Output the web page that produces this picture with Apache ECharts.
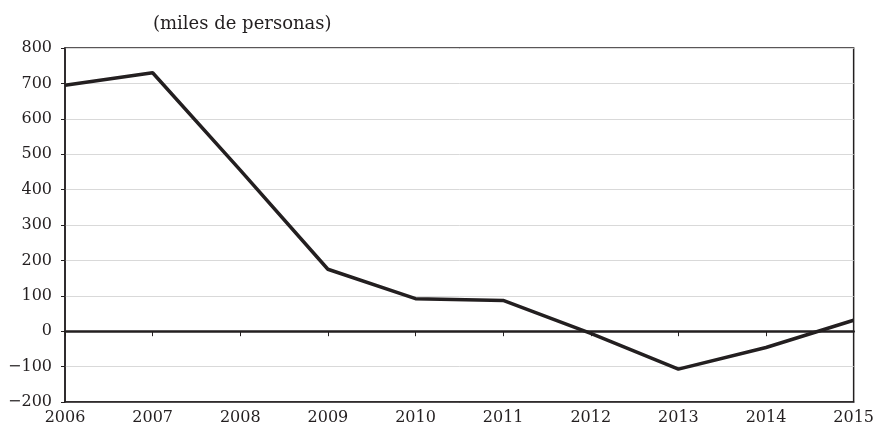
<!DOCTYPE html>
<html>
<head>
<meta charset="utf-8">
<script src="https://cdn.jsdelivr.net/npm/echarts@6/dist/echarts.min.js"></script>
<style>
html,body{margin:0;padding:0;background:#fff;}
#chart{width:877px;height:427px;}
</style>
</head>
<body>
<div id="chart"></div>
<script>
var years = ['2006','2007','2008','2009','2010','2011','2012','2013','2014','2015'];
var values = [695, 730, 455, 175, 92, 87, -6, -107, -46, 31];
var subtitle = '(miles de personas)';

var serif = 'DejaVu Serif';
var chart = echarts.init(document.getElementById('chart'));
chart.setOption({
  animation: false,
  backgroundColor: '#fff',
  title: {
    text: subtitle,
    left: 148, top: 10,
    textStyle: { fontFamily: serif, fontSize: 18, fontWeight: 'normal', color: '#231f20' }
  },
  grid: {
    left: 65, right: 20, top: 48, bottom: 25,
    show: true, borderColor: '#231f20', borderWidth: 1.5
  },
  xAxis: [{
    type: 'category', data: years, boundaryGap: false, position: 'bottom',
    axisLine: { show: true, onZero: false, lineStyle: { color: '#231f20', width: 1.5 } },
    axisTick: { show: false },
    axisLabel: { fontFamily: serif, fontSize: 16, color: '#231f20', margin: 8, showMinLabel: true, showMaxLabel: true },
    splitLine: { show: false }
  }, {
    type: 'category', data: years, boundaryGap: false, position: 'bottom',
    axisLine: { show: true, onZero: true, lineStyle: { color: '#231f20', width: 2.5 } },
    axisTick: { show: true, length: 5, lineStyle: { color: '#231f20', width: 1 } },
    axisLabel: { show: false },
    splitLine: { show: false }
  }],
  yAxis: {
    type: 'value', min: -200, max: 800, interval: 100,
    axisLine: { show: true, lineStyle: { color: '#231f20', width: 1.5 } },
    axisTick: { show: true, length: 4, lineStyle: { color: '#231f20' } },
    axisLabel: {
      fontFamily: serif, fontSize: 16, color: '#231f20', margin: 13,
      formatter: function (v) { return v < 0 ? '\u2212' + Math.abs(v) : String(v); }
    },
    splitLine: { show: true, lineStyle: { color: '#d9d9d9', width: 1 } }
  },
  series: [{
    type: 'line', data: values, xAxisIndex: 0,
    symbol: 'none', smooth: false,
    lineStyle: { color: '#231f20', width: 3.5 },
    z: 5
  }]
});
</script>
</body>
</html>
